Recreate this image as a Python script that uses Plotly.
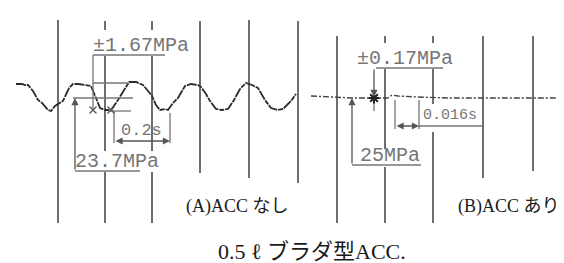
import plotly.graph_objects as go

# ---- data (time axis -> px, pressure -> px) ----
# (A) ACC なし : pressure pulsation trace
wave_a_t = [8, 14, 17, 20, 25, 30, 34, 37, 40, 43, 47, 55, 58, 61, 65, 70, 77, 83, 88, 92, 97,
            103, 110, 116, 121, 128, 135, 140, 144, 148, 152, 157, 160, 165, 170, 174, 177, 183,
            190, 193, 198, 202, 208, 214, 220, 226, 232, 238, 244, 250, 257, 263, 270, 275, 278,
            283, 288]
wave_a_p = [76, 76, 77, 77, 83, 92, 95, 98, 102, 103, 98, 93, 86, 80, 76, 76, 77, 78, 90, 100, 102,
            102, 92, 82, 74, 74, 77, 83, 88, 97, 102, 101, 102, 95, 90, 83, 78, 76,
            77, 79, 86, 93, 101, 102, 101, 92, 81, 75, 77, 80, 92, 100, 102, 101, 98,
            93, 86]
# (B) ACC あり : nearly flat trace
wave_b_t = [303, 320, 345, 366, 380, 384, 390, 410, 440, 475, 500, 525, 564]
wave_b_p = [88, 89, 90, 90, 90, 87, 88, 89, 90, 90, 90, 90, 90]

# timing marker lines: (t, top, bottom)
marker_a = [(50, 12, 215), (97, 13, 22), (97, 48, 143), (97, 164, 215),
            (144, 13, 22), (144, 48, 143), (144, 164, 215),
            (192, 13, 165), (241, 12, 170), (290, 13, 175)]
marker_b = [(329, 28, 215), (377, 28, 35), (377, 61, 141), (377, 159, 215),
            (425, 28, 35), (425, 61, 96), (425, 124, 215),
            (475, 28, 170), (525, 28, 163)]

labels_a = ["±1.67MPa", "0.2s", "23.7MPa"]
labels_b = ["±0.17MPa", "0.016s", "25MPa"]
panel_titles = ["(A)ACC なし", "(B)ACC あり"]
caption = "0.5 ℓ ブラダ型ACC."

W, H = 564, 263
GRID = "#4a4a4a"
ANN = "#767676"
TXT = "#1a1a1a"

fig = go.Figure()


def seg_trace(segs, color, width):
    xs, ys = [], []
    for s in segs:
        for (x, y) in s:
            xs.append(x)
            ys.append(y)
        xs.append(None)
        ys.append(None)
    fig.add_trace(go.Scatter(x=xs, y=ys, mode="lines", line=dict(color=color, width=width),
                             hoverinfo="skip", showlegend=False))


# marker lines
seg_trace([[(t, a), (t, b)] for (t, a, b) in marker_a + marker_b], GRID, 1.6)

# waveforms
fig.add_trace(go.Scatter(x=wave_a_t, y=wave_a_p, mode="lines",
                         line=dict(color="#2a2a2a", width=1.8, dash="10px,1px,5px,1px"),
                         hoverinfo="skip", showlegend=False))
fig.add_trace(go.Scatter(x=wave_b_t, y=wave_b_p, mode="lines",
                         line=dict(color="#444444", width=1.4, dash="6px,2px,2px,2px"),
                         hoverinfo="skip", showlegend=False))

# dimension lines (A)
seg_trace([
    [(85, 47), (157, 47)],
    [(85, 47), (85, 103)],
    [(85, 75), (120, 75)],
    [(65, 90), (125, 90)],
    [(100, 103), (123, 103)],
    [(106, 103), (106, 135)],
    [(162, 105), (162, 135)],
    [(67, 163), (132, 163)],
], ANN, 1.3)
# dimension lines (B)
seg_trace([
    [(368, 60), (435, 60)],
    [(366, 88), (366, 103)],
    [(344, 157), (413, 157)],
    [(387, 92), (387, 121)],
    [(411, 92), (411, 121)],
    [(411, 118), (474, 118)],
], ANN, 1.3)

# small cross marks on the trace
fig.add_trace(go.Scatter(x=[85, 103], y=[102, 102], mode="markers",
                         marker=dict(symbol="x-thin", size=7, line=dict(color="#555", width=1.3)),
                         hoverinfo="skip", showlegend=False))
fig.add_trace(go.Scatter(x=[366], y=[90], mode="markers",
                         marker=dict(symbol="asterisk", size=9, line=dict(color="#222", width=2)),
                         hoverinfo="skip", showlegend=False))


def arrow(x0, y0, x1, y1, both=False):
    fig.add_annotation(x=x1, y=y1, ax=x0, ay=y0, xref="x", yref="y", axref="x", ayref="y",
                       text="", showarrow=True, arrowhead=2, arrowsize=1.1, arrowwidth=1.3,
                       arrowcolor="#555", startarrowhead=2, startarrowsize=1.1,
                       arrowside="end+start" if both else "end")


arrow(67, 163, 67, 90)
arrow(106, 133, 162, 133, both=True)
arrow(366, 60, 366, 89)
arrow(344, 157, 344, 90)
arrow(387, 118, 411, 118, both=True)

mono = "Liberation Mono, DejaVu Sans Mono, monospace"


def text(x, y, s, size, color=ANN, family=mono, anchor="center"):
    fig.add_annotation(x=x, y=y, xref="x", yref="y", text=s, showarrow=False,
                       font=dict(family=family, size=size, color=color),
                       xanchor=anchor, yanchor="middle")


text(133, 37, labels_a[0], 20)
text(133, 122, labels_a[1], 17)
text(109, 153, labels_a[2], 20)
text(397, 50, labels_b[0], 20)
text(442, 107, labels_b[1], 15)
text(382, 147, labels_b[2], 20)

serif = "Liberation Serif, Noto Sans CJK JP, serif"
text(176, 198, panel_titles[0], 18, TXT, serif, "left")
text(448, 198, panel_titles[1], 18, TXT, serif, "left")
text(304, 243, caption, 22, TXT, serif)

fig.update_layout(
    width=W, height=H, margin=dict(l=0, r=0, t=0, b=0),
    paper_bgcolor="white", plot_bgcolor="white",
    xaxis=dict(range=[0, W], visible=False, fixedrange=True),
    yaxis=dict(range=[H, 0], visible=False, fixedrange=True),
    showlegend=False,
)

fig.write_html("out.html")
